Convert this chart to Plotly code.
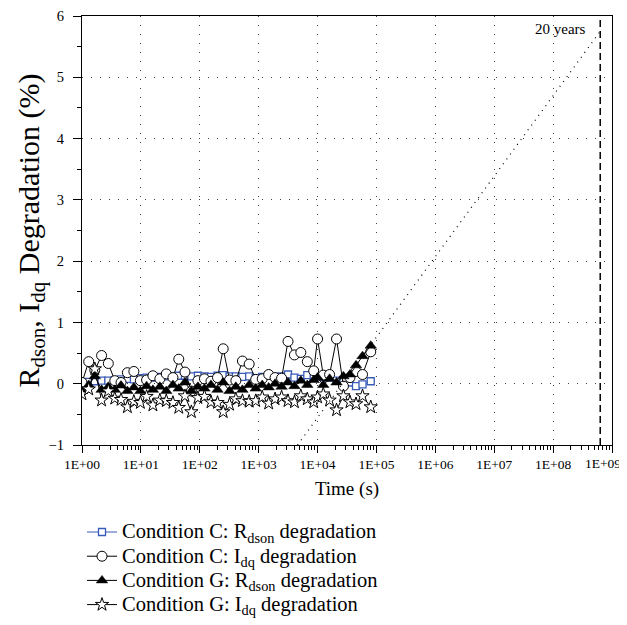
import plotly.graph_objects as go

# ---- data ----
time_s = [1, 1.3, 1.65, 2.15, 2.8, 3.6, 4.6, 5.9, 7.6, 9.8, 12.5, 16, 21, 27, 35, 44,
          56, 72, 93, 120, 155, 200, 250, 320, 410, 530, 690, 890, 1150, 1480, 1900,
          2450, 3150, 4050, 5200, 6700, 8600, 10000, 12500, 16000, 21000, 27500,
          35500, 45000, 58000, 80000]

c_rdson = [0.0, 0.03, 0.04, 0.05, 0.05, 0.06, 0.07, 0.08, 0.07, 0.09, 0.10, 0.10, 0.11,
           0.12, 0.12, 0.13, 0.13, 0.12, 0.13, 0.12, 0.11, 0.13, 0.14, 0.12, 0.12, 0.11,
           0.12, 0.09, 0.11, 0.14, 0.11, 0.12, 0.15, 0.10, 0.08, 0.14, 0.10, 0.12, 0.11,
           0.10, 0.05, 0.06, 0.02, -0.04, -0.01, 0.04]

c_idq = [0.02, 0.36, 0.22, 0.46, 0.33, 0.05, 0.02, 0.18, 0.20, 0.05, 0.06, 0.13, 0.08,
         0.16, 0.10, 0.40, 0.19, -0.12, 0.05, 0.08, 0.04, 0.10, 0.57, 0.06, 0.05, 0.37,
         0.32, 0.07, 0.08, 0.15, 0.10, 0.09, 0.69, 0.47, 0.51, 0.36, 0.21, 0.73, 0.14,
         0.15, 0.73, -0.04, 0.10, 0.20, 0.15, 0.52]

g_rdson = [-0.12, -0.02, 0.12, -0.10, -0.05, -0.10, -0.03, -0.12, -0.06, -0.12, -0.04,
           -0.10, -0.05, -0.12, -0.02, -0.08, 0.02, -0.12, -0.05, -0.08, -0.02, -0.10,
           0.02, -0.12, -0.05, -0.10, -0.02, -0.08, -0.02, -0.06, 0.00, -0.05, 0.02,
           -0.04, 0.05, -0.02, 0.06, 0.10, -0.02, 0.08, 0.02, 0.12, 0.15, 0.30, 0.45, 0.62]

g_idq = [-0.17, -0.09, 0.24, -0.27, -0.12, -0.24, -0.26, -0.38, -0.29, -0.31, -0.21,
         -0.35, -0.27, -0.28, -0.31, -0.39, -0.20, -0.46, -0.23, -0.21, -0.30, -0.31,
         -0.46, -0.34, -0.25, -0.28, -0.29, -0.28, -0.22, -0.32, -0.25, -0.22, -0.28,
         -0.30, -0.20, -0.25, -0.30, -0.22, -0.17, -0.27, -0.43, -0.20, -0.30, -0.33,
         -0.20, -0.38]

extrap_t = [4570, 6.31e8]
extrap_y = [-1.0, 5.75]

twenty_years_s = 6.31e8

x_tickvals = [1, 10, 100, 1e3, 1e4, 1e5, 1e6, 1e7, 1e8, 1e9]
x_ticktext = ["1E+00", "1E+01", "1E+02", "1E+03", "1E+04", "1E+05", "1E+06",
              "1E+07", "1E+08", ""]
last_tick_label = "1E+09"

names = ["Condition C: R<sub>dson</sub> degradation",
         "Condition C: I<sub>dq</sub> degradation",
         "Condition G: R<sub>dson</sub> degradation",
         "Condition G: I<sub>dq</sub> degradation"]

FONT = "Liberation Serif"
BLUE = "#3a5bb8"
TICKSIZE = 13.5


def big(s):
    return '<span style="font-size:20.5px">' + s + '</span>'


fig = go.Figure()

fig.add_trace(go.Scatter(x=time_s, y=c_rdson, mode="lines+markers", name=big(names[0]),
                         line=dict(color=BLUE, width=1),
                         marker=dict(symbol="square", size=7, color="white",
                                     line=dict(color=BLUE, width=1.3))))
fig.add_trace(go.Scatter(x=time_s, y=c_idq, mode="lines+markers", name=big(names[1]),
                         line=dict(color="black", width=1),
                         marker=dict(symbol="circle", size=10, color="white",
                                     line=dict(color="black", width=1))))
fig.add_trace(go.Scatter(x=time_s, y=g_rdson, mode="lines+markers", name=big(names[2]),
                         line=dict(color="black", width=1),
                         marker=dict(symbol="triangle-up", size=10, color="black",
                                     line=dict(color="black", width=0.5))))
fig.add_trace(go.Scatter(x=time_s, y=g_idq, mode="lines+markers", name=big(names[3]),
                         line=dict(color="black", width=1),
                         marker=dict(symbol="star", size=10, color="white",
                                     line=dict(color="black", width=1))))

# extrapolation (dotted) and 20-year marker
fig.add_trace(go.Scatter(x=extrap_t, y=extrap_y, mode="lines", showlegend=False,
                         line=dict(color="black", width=1.2, dash="1px,5px"),
                         hoverinfo="skip"))
fig.add_trace(go.Scatter(x=[twenty_years_s, twenty_years_s], y=[-1, 6], mode="lines",
                         showlegend=False, line=dict(color="black", width=1.5,
                                                     dash="7px,4px"),
                         hoverinfo="skip"))
fig.add_annotation(x=8.6, y=6.0, xref="x", yref="y", text="20 years",
                   showarrow=False, xanchor="right", yanchor="top", yshift=-3,
                   font=dict(family=FONT, size=15, color="black"))
fig.add_annotation(x=9, y=-1, xref="x", yref="y", text=last_tick_label,
                   showarrow=False, xanchor="right", yanchor="top", xshift=11,
                   yshift=-9, font=dict(family=FONT, size=TICKSIZE, color="black"))

minor_x = [m * 10 ** d for d in range(0, 9) for m in range(2, 10)]

fig.update_xaxes(type="log", range=[0, 9], tickmode="array", tickvals=x_tickvals,
                 ticktext=x_ticktext, ticks="outside", ticklen=7, tickwidth=1,
                 tickcolor="black", showline=True, linecolor="black", linewidth=1.3,
                 mirror=True, showgrid=True, gridcolor="#444", gridwidth=1,
                 griddash="1px,8px", zeroline=False,
                 tickfont=dict(family=FONT, size=TICKSIZE, color="black"),
                 title=dict(text="Time (s)", font=dict(family=FONT, size=19,
                                                       color="black"), standoff=10),
                 minor=dict(tickmode="array", tickvals=minor_x, ticks="outside",
                            ticklen=4, tickcolor="black", showgrid=False))
fig.update_yaxes(range=[-1, 6], tick0=0, dtick=1, ticks="outside", ticklen=8,
                 tickwidth=1, tickcolor="black", showline=True, linecolor="black",
                 linewidth=1.3, mirror=True, showgrid=True, gridcolor="#444",
                 gridwidth=1, griddash="1px,8px", zeroline=False,
                 ticklabelstandoff=6,
                 tickfont=dict(family=FONT, size=14.5, color="black"),
                 title=dict(text="R<sub>dson</sub>, I<sub>dq</sub> Degradation (%)",
                            font=dict(family=FONT, size=30, color="black"),
                            standoff=0),
                 minor=dict(dtick=0.5, ticks="outside", ticklen=4, tickcolor="black",
                            showgrid=False))

fig.update_layout(width=627, height=625, plot_bgcolor="white", paper_bgcolor="white",
                  margin=dict(l=74, r=23, t=8, b=188, autoexpand=False),
                  font=dict(family=FONT, color="black"),
                  legend=dict(x=0.0, y=-0.163, xanchor="left", yanchor="top",
                              font=dict(family=FONT, size=16.3, color="black"),
                              bgcolor="rgba(0,0,0,0)", tracegroupgap=0,
                              itemwidth=30))

fig.write_html("out.html")
